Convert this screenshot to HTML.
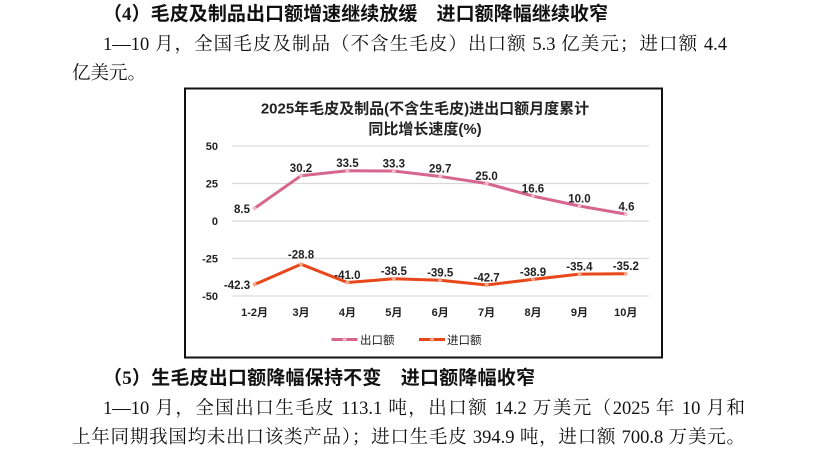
<!DOCTYPE html>
<html>
<head>
<meta charset="utf-8">
<style>
  html,body{margin:0;padding:0;background:#fff;}
  body{width:816px;height:447px;position:relative;overflow:hidden;}
  .ln{position:absolute;white-space:nowrap;line-height:24px;height:24px;color:#111;
      font-family:"Liberation Serif","Noto Serif CJK SC",serif;font-size:18.5px;}
  .j{text-align:justify;text-align-last:justify;text-justify:inter-character;}
  .h{font-family:"Liberation Serif","Noto Sans CJK SC",sans-serif;font-weight:700;font-size:19px;color:#111;}
  svg{position:absolute;left:0;top:0;}
</style>
</head>
<body>
<div class="ln h j" style="left:103px;top:3px;width:505px;">（4）毛皮及制品出口额增速继续放缓　进口额降幅继续收窄</div>
<div class="ln j" style="left:103px;top:33px;width:624px;">1—10 月，全国毛皮及制品（不含生毛皮）出口额 5.3 亿美元；进口额 4.4</div>
<div class="ln" style="left:72px;top:62px;">亿美元。</div>

<svg width="816" height="447" viewBox="0 0 816 447" xmlns="http://www.w3.org/2000/svg">
  <rect x="185" y="88.5" width="477" height="269" fill="#fff" stroke="#111" stroke-width="2"/>
  <g font-family="'Liberation Sans','Noto Sans CJK SC',sans-serif" font-weight="700" fill="#222">
    <text x="425" y="113.5" font-size="15" text-anchor="middle">2025年毛皮及制品(不含生毛皮)进出口额月度累计</text>
    <text x="425" y="134" font-size="15" text-anchor="middle">同比增长速度(%)</text>
  </g>
  <g stroke="#d9d9d9" stroke-width="1.2">
    <line x1="232" y1="146" x2="649" y2="146"/>
    <line x1="232" y1="183.5" x2="649" y2="183.5"/>
    <line x1="232" y1="221" x2="649" y2="221"/>
    <line x1="232" y1="258.5" x2="649" y2="258.5"/>
    <line x1="232" y1="296" x2="649" y2="296"/>
  </g>
  <g font-family="'Liberation Sans',sans-serif" font-weight="700" font-size="11" fill="#222" text-anchor="end">
    <text x="218" y="150">50</text>
    <text x="218" y="187.5">25</text>
    <text x="218" y="225">0</text>
    <text x="218" y="262.5">-25</text>
    <text x="218" y="300">-50</text>
  </g>
  <g font-family="'Liberation Sans','Noto Sans CJK SC',sans-serif" font-weight="700" font-size="11" fill="#222" text-anchor="middle">
    <text x="254.6" y="316">1-2月</text>
    <text x="301" y="316">3月</text>
    <text x="347.4" y="316">4月</text>
    <text x="393.8" y="316">5月</text>
    <text x="440.2" y="316">6月</text>
    <text x="486.6" y="316">7月</text>
    <text x="533" y="316">8月</text>
    <text x="579.4" y="316">9月</text>
    <text x="625.8" y="316">10月</text>
  </g>
  <!-- export series -->
  <polyline fill="none" stroke="#d6668e" stroke-width="3" stroke-linejoin="round" stroke-linecap="round"
    points="254.6,208.25 301,175.7 347.4,170.75 393.8,171.05 440.2,176.45 486.6,183.5 533,196.1 579.4,206 625.8,214.1"/>
  <g fill="#f3b8cc">
    <path d="M254.6 205.8l2.4 2.45-2.4 2.45-2.4-2.45z"/>
    <path d="M301 173.3l2.4 2.4-2.4 2.4-2.4-2.4z"/>
    <path d="M347.4 168.35l2.4 2.4-2.4 2.4-2.4-2.4z"/>
    <path d="M393.8 168.65l2.4 2.4-2.4 2.4-2.4-2.4z"/>
    <path d="M440.2 174.05l2.4 2.4-2.4 2.4-2.4-2.4z"/>
    <path d="M486.6 181.1l2.4 2.4-2.4 2.4-2.4-2.4z"/>
    <path d="M533 193.7l2.4 2.4-2.4 2.4-2.4-2.4z"/>
    <path d="M579.4 203.6l2.4 2.4-2.4 2.4-2.4-2.4z"/>
    <path d="M625.8 211.7l2.4 2.4-2.4 2.4-2.4-2.4z"/>
  </g>
  <!-- import series -->
  <polyline fill="none" stroke="#e8471a" stroke-width="3" stroke-linejoin="round" stroke-linecap="round"
    points="254.6,284.45 301,264.2 347.4,282.5 393.8,278.75 440.2,280.25 486.6,285.05 533,279.35 579.4,274.1 625.8,273.8"/>
  <g fill="#f8a98c">
    <path d="M254.6 282.05l2.4 2.4-2.4 2.4-2.4-2.4z"/>
    <path d="M301 261.8l2.4 2.4-2.4 2.4-2.4-2.4z"/>
    <path d="M347.4 280.1l2.4 2.4-2.4 2.4-2.4-2.4z"/>
    <path d="M393.8 276.35l2.4 2.4-2.4 2.4-2.4-2.4z"/>
    <path d="M440.2 277.85l2.4 2.4-2.4 2.4-2.4-2.4z"/>
    <path d="M486.6 282.65l2.4 2.4-2.4 2.4-2.4-2.4z"/>
    <path d="M533 276.95l2.4 2.4-2.4 2.4-2.4-2.4z"/>
    <path d="M579.4 271.7l2.4 2.4-2.4 2.4-2.4-2.4z"/>
    <path d="M625.8 271.4l2.4 2.4-2.4 2.4-2.4-2.4z"/>
  </g>
  <!-- data labels -->
  <g font-family="'Liberation Sans',sans-serif" font-weight="700" font-size="11.5" fill="#222" text-anchor="middle">
    <text x="242" y="213">8.5</text>
    <text x="301" y="172">30.2</text>
    <text x="347.4" y="167">33.5</text>
    <text x="393.8" y="167.3">33.3</text>
    <text x="440.2" y="172.7">29.7</text>
    <text x="486.6" y="179.8">25.0</text>
    <text x="533" y="192.4">16.6</text>
    <text x="579.4" y="202.3">10.0</text>
    <text x="626.5" y="210.4">4.6</text>

    <text x="237" y="289">-42.3</text>
    <text x="301" y="258.5">-28.8</text>
    <text x="347.4" y="279">-41.0</text>
    <text x="393.8" y="275.2">-38.5</text>
    <text x="440.2" y="276.7">-39.5</text>
    <text x="486.6" y="281.5">-42.7</text>
    <text x="533" y="275.8">-38.9</text>
    <text x="579.4" y="270.5">-35.4</text>
    <text x="625.8" y="270.2">-35.2</text>
  </g>
  <!-- legend -->
  <line x1="331.5" y1="339.5" x2="357.5" y2="339.5" stroke="#d6668e" stroke-width="3"/>
  <path d="M344.5 337.1l2.4 2.4-2.4 2.4-2.4-2.4z" fill="#f3b8cc"/>
  <text x="360" y="344" font-family="'Noto Sans CJK SC',sans-serif" font-size="11.5" fill="#222">出口额</text>
  <line x1="419" y1="339.5" x2="445" y2="339.5" stroke="#e8471a" stroke-width="3"/>
  <path d="M432 337.1l2.4 2.4-2.4 2.4-2.4-2.4z" fill="#f8a98c"/>
  <text x="447" y="344" font-family="'Noto Sans CJK SC',sans-serif" font-size="11.5" fill="#222">进口额</text>
</svg>

<div class="ln h j" style="left:103px;top:367px;width:432px;">（5）生毛皮出口额降幅保持不变　进口额降幅收窄</div>
<div class="ln j" style="left:103px;top:396.5px;width:642px;">1—10 月，全国出口生毛皮 113.1 吨，出口额 14.2 万美元（2025 年 10 月和</div>
<div class="ln j" style="left:72px;top:426px;width:673px;">上年同期我国均未出口该类产品）；进口生毛皮 394.9 吨，进口额 700.8 万美元。</div>
</body>
</html>
